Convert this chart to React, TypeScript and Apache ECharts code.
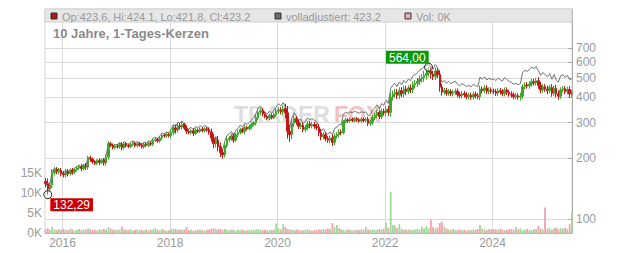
import React, { useEffect, useRef } from 'react';
import * as echarts from 'echarts';

// Semi-monthly periods (8th and 23rd of each month), Sep 2015 – Jun 2025
const FIRST_YEAR = 2015;
const FIRST_MONTH = 8; // September (0-based)
const PERIOD_DAYS = [8, 23];

// Closing prices per half-month
const close2015 = [150, 141, 148, 170, 176, 172, 174, 168];
const close2016 = [166, 172, 168, 174, 171, 176, 179, 182, 178, 184, 181, 200, 198, 192, 189, 194, 191, 195, 190, 203, 236, 232, 226, 230];
const close2017 = [228, 234, 226, 236, 231, 229, 234, 238, 231, 236, 233, 228, 235, 232, 238, 235, 246, 248, 244, 252, 260, 258, 263, 259];
const close2018 = [268, 283, 276, 290, 286, 294, 282, 272, 268, 274, 266, 276, 272, 279, 274, 280, 276, 270, 252, 236, 246, 228, 214, 208];
const close2019 = [232, 248, 252, 258, 246, 262, 268, 278, 272, 284, 280, 288, 294, 300, 318, 338, 344, 332, 322, 316, 326, 318, 330, 342];
const close2020 = [348, 340, 352, 336, 272, 262, 298, 314, 302, 288, 292, 278, 284, 296, 290, 294, 288, 284, 268, 256, 262, 250, 246, 252];
const close2021 = [240, 258, 262, 270, 268, 304, 310, 306, 312, 308, 314, 310, 306, 312, 308, 312, 298, 302, 318, 326, 338, 322, 342, 336];
const close2022 = [350, 338, 402, 416, 424, 410, 432, 418, 440, 428, 446, 438, 462, 470, 480, 494, 502, 516, 528, 540, 522, 508, 540, 520];
const close2023 = [450, 425, 432, 420, 428, 418, 424, 430, 414, 408, 418, 412, 404, 410, 402, 415, 408, 404, 440, 432, 446, 428, 436, 430];
const close2024 = [428, 420, 432, 426, 418, 436, 424, 416, 412, 404, 408, 402, 406, 452, 462, 456, 466, 480, 472, 484, 460, 436, 452, 440];
const close2025 = [432, 448, 420, 444, 416, 406, 436, 442, 428, 438, 416, 423];
const FIRST_OPEN = 154;

// Intra-period range beyond the body, in percent (wick length)
const wick2015 = [4, 6, 3, 4, 3, 3, 3, 3];
const wick2016 = [3, 3, 3, 2, 3, 2, 2, 2, 3, 2, 3, 3, 3, 2, 2, 2, 3, 2, 3, 3, 3, 2, 2, 2];
const wick2017 = [2, 2, 3, 2, 2, 2, 2, 2, 2, 2, 2, 2, 2, 2, 2, 2, 2, 2, 2, 2, 2, 2, 2, 2];
const wick2018 = [3, 3, 4, 3, 3, 3, 2, 3, 2, 2, 3, 2, 2, 2, 2, 2, 2, 3, 4, 5, 4, 5, 5, 4];
const wick2019 = [3, 3, 3, 3, 3, 2, 3, 2, 2, 3, 2, 2, 3, 2, 3, 3, 3, 3, 2, 2, 2, 2, 2, 3];
const wick2020 = [3, 3, 4, 6, 8, 8, 5, 4, 3, 3, 3, 3, 3, 3, 3, 3, 3, 3, 4, 4, 3, 3, 3, 3];
const wick2021 = [4, 3, 3, 3, 3, 2, 2, 2, 2, 2, 2, 2, 2, 2, 2, 2, 3, 3, 3, 3, 3, 3, 3, 3];
const wick2022 = [4, 4, 5, 4, 4, 4, 4, 4, 4, 4, 3, 4, 4, 4, 4, 4, 4, 5, 5, 4, 5, 4, 4, 4];
const wick2023 = [5, 4, 3, 3, 3, 3, 3, 3, 3, 3, 3, 3, 3, 3, 3, 3, 3, 3, 4, 3, 3, 3, 3, 3];
const wick2024 = [3, 3, 3, 3, 3, 3, 3, 3, 3, 3, 3, 3, 4, 3, 3, 3, 3, 3, 3, 3, 4, 4, 3, 3];
const wick2025 = [4, 3, 4, 3, 4, 4, 3, 3, 3, 3, 4, 3];

// "volladjustiert" line per half-month
const adj2015 = [152, 144, 150, 173, 179, 175, 177, 171];
const adj2016 = [169, 175, 171, 177, 174, 179, 182, 185, 181, 187, 184, 203, 201, 195, 192, 197, 194, 198, 193, 206, 240, 236, 230, 234];
const adj2017 = [234, 240, 232, 242, 237, 235, 240, 244, 237, 242, 239, 234, 241, 238, 244, 241, 252, 254, 250, 258, 267, 265, 270, 266];
const adj2018 = [279, 294, 287, 302, 298, 306, 293, 283, 279, 285, 277, 287, 283, 290, 285, 291, 287, 281, 262, 246, 256, 237, 223, 217];
const adj2019 = [244, 260, 265, 271, 258, 275, 281, 292, 286, 298, 294, 302, 309, 315, 334, 355, 361, 349, 338, 332, 342, 334, 347, 359];
const adj2020 = [372, 364, 377, 360, 291, 280, 319, 336, 323, 308, 312, 297, 304, 317, 310, 315, 308, 304, 287, 274, 280, 268, 263, 270];
const adj2021 = [262, 281, 286, 294, 292, 331, 338, 334, 340, 336, 342, 338, 334, 340, 336, 340, 325, 329, 347, 355, 368, 351, 373, 366];
const adj2022 = [388, 374, 444, 460, 470, 453, 477, 462, 486, 473, 493, 484, 511, 519, 530, 546, 555, 568, 575, 584, 566, 552, 582, 562];
const adj2023 = [500, 478, 484, 470, 480, 468, 475, 482, 464, 457, 468, 462, 453, 460, 451, 465, 457, 453, 505, 492, 506, 488, 498, 490];
const adj2024 = [494, 485, 498, 490, 482, 502, 490, 480, 474, 466, 470, 462, 468, 532, 545, 538, 550, 565, 556, 568, 542, 514, 532, 518];
const adj2025 = [506, 525, 492, 520, 488, 476, 512, 518, 502, 514, 490, 496];

// Volume (thousands) per half-month
const vol2015 = [0.9, 1.2, 0.8, 1.5, 0.9, 0.7, 1.0, 0.8];
const vol2016 = [1.0, 0.8, 0.7, 1.1, 0.9, 0.6, 0.8, 1.0, 0.7, 0.9, 0.8, 1.2, 0.9, 0.7, 0.8, 0.6, 0.9, 0.8, 1.0, 0.9, 1.5, 1.1, 0.8, 0.9];
const vol2017 = [0.8, 0.9, 1.6, 0.9, 0.7, 0.8, 1.0, 0.6, 0.8, 0.9, 0.7, 0.8, 0.6, 0.9, 0.7, 0.8, 0.9, 1.2, 0.8, 0.7, 1.0, 0.8, 0.6, 0.7];
const vol2018 = [0.9, 1.1, 1.0, 0.8, 0.9, 0.8, 0.9, 1.5, 0.7, 0.8, 0.6, 0.7, 0.8, 0.9, 0.7, 0.6, 0.8, 0.9, 1.1, 1.2, 1.0, 0.9, 1.1, 0.8];
const vol2019 = [1.0, 0.8, 0.7, 0.9, 0.8, 0.6, 0.8, 0.7, 0.9, 0.7, 0.6, 0.8, 0.7, 0.9, 0.8, 1.0, 0.8, 0.7, 0.9, 0.6, 0.8, 0.7, 0.9, 2.4];
const vol2020 = [1.2, 0.9, 2.2, 1.5, 1.0, 0.9, 0.8, 0.7, 0.9, 0.8, 0.6, 0.7, 0.8, 0.9, 0.7, 0.6, 0.8, 0.7, 0.9, 0.8, 1.0, 0.9, 1.1, 1.0];
const vol2021 = [2.5, 1.4, 2.0, 1.2, 0.9, 0.8, 0.7, 0.9, 0.8, 0.6, 0.7, 0.8, 0.7, 0.9, 0.8, 1.5, 0.9, 0.8, 0.9, 0.7, 0.8, 1.0, 0.9, 1.1];
const vol2022 = [2.6, 1.3, 10.3, 2.0, 1.8, 1.2, 2.2, 1.0, 0.9, 0.8, 0.9, 0.7, 0.8, 0.9, 1.0, 0.8, 1.6, 1.1, 1.8, 1.2, 3.3, 1.5, 1.1, 1.4];
const vol2023 = [2.5, 2.8, 1.6, 1.1, 0.9, 0.8, 1.0, 0.7, 0.8, 0.9, 0.7, 0.8, 0.6, 0.8, 0.7, 0.9, 0.8, 1.0, 2.0, 1.1, 0.9, 0.8, 1.0, 0.9];
const vol2024 = [1.0, 0.9, 0.8, 1.1, 0.9, 0.7, 0.8, 0.9, 1.0, 0.8, 1.5, 0.9, 1.2, 0.8, 0.9, 1.0, 0.8, 0.7, 0.9, 1.0, 1.8, 1.1, 0.9, 6.4];
const vol2025 = [1.1, 1.3, 0.9, 1.2, 1.4, 1.0, 1.2, 1.1, 1.3, 1.0, 2.2, 5.2];

// Extremes marked on the chart
const LOW_POINT = { year: 2015, month: 8, day: 23, value: 132.29 };
const HIGH_POINT = { year: 2022, month: 9, day: 23, value: 564.0 };

// Axis ticks
const PRICE_TICKS = [100, 200, 300, 400, 500, 600, 700];
const VOLUME_TICKS = [0, 5, 10, 15];
const YEAR_TICKS = [2016, 2018, 2020, 2022, 2024];
const X_MIN = Date.UTC(2015, 8, 4);
const X_MAX = Date.UTC(2025, 5, 24);

const LEGEND_OHLC = 'Op:423.6, Hi:424.1, Lo:421.8, Cl:423.2';
const LEGEND_ADJ = 'volladjustiert: 423.2';
const LEGEND_VOL = 'Vol: 0K';
const TITLE = '10 Jahre, 1-Tages-Kerzen';

const closes = [...close2015, ...close2016, ...close2017, ...close2018, ...close2019, ...close2020, ...close2021, ...close2022, ...close2023, ...close2024, ...close2025];
const wicks = [...wick2015, ...wick2016, ...wick2017, ...wick2018, ...wick2019, ...wick2020, ...wick2021, ...wick2022, ...wick2023, ...wick2024, ...wick2025];
const adjusted = [...adj2015, ...adj2016, ...adj2017, ...adj2018, ...adj2019, ...adj2020, ...adj2021, ...adj2022, ...adj2023, ...adj2024, ...adj2025];
const volumes = [...vol2015, ...vol2016, ...vol2017, ...vol2018, ...vol2019, ...vol2020, ...vol2021, ...vol2022, ...vol2023, ...vol2024, ...vol2025];

const FONT = '"Liberation Sans", Arial, Helvetica, sans-serif';
const UP = '#3aa82a';
const DOWN = '#c81414';

function periodDate(i: number): number {
  const m = FIRST_MONTH + Math.floor(i / 2);
  const y = FIRST_YEAR + Math.floor(m / 12);
  return Date.UTC(y, m % 12, PERIOD_DAYS[i % 2]);
}

function buildOption() {
  const lowTs = Date.UTC(LOW_POINT.year, LOW_POINT.month, LOW_POINT.day);
  const highTs = Date.UTC(HIGH_POINT.year, HIGH_POINT.month, HIGH_POINT.day);
  const candles: any[] = [];
  const adjLine: any[] = [];
  const vols: any[] = [];
  closes.forEach((c, i) => {
    const t = periodDate(i);
    const o = i === 0 ? FIRST_OPEN : closes[i - 1];
    const w = (wicks[i] ?? 3) / 100;
    let lo = Math.min(o, c) * (1 - w);
    let hi = Math.max(o, c) * (1 + w);
    if (t === lowTs) lo = LOW_POINT.value;
    if (t === highTs) hi = HIGH_POINT.value;
    candles.push([t, o, c, lo, hi]);
    adjLine.push([t, adjusted[i]]);
    vols.push({ value: [t, volumes[i]], itemStyle: { color: c >= o ? '#9fd89a' : '#f0a2aa' } });
  });
  const fmt = (v: number) => v.toFixed(2).replace('.', ',');
  const yearTs = YEAR_TICKS.map((y) => Date.UTC(y, 0, 1));

  return {
    animation: false,
    backgroundColor: '#ffffff',
    textStyle: { fontFamily: FONT },
    grid: { left: 45, right: 60, top: 9, bottom: 20, show: true, borderColor: '#d4d4d4', borderWidth: 1 },
    xAxis: {
      type: 'value',
      min: X_MIN,
      max: X_MAX,
      axisLine: { show: true, lineStyle: { color: '#b8b8b8' } },
      axisTick: { show: false, customValues: yearTs },
      axisLabel: {
        customValues: yearTs,
        formatter: (v: number) => String(new Date(v).getUTCFullYear()),
        color: '#9a9a9a',
        fontSize: 12,
        margin: 4,
        fontFamily: FONT,
      },
      splitLine: { show: true, lineStyle: { color: '#dadada', width: 1 } },
    },
    yAxis: [
      {
        type: 'log',
        logBase: 10,
        position: 'right',
        min: 85.5,
        max: 1095,
        axisLine: { show: true, lineStyle: { color: '#aaaaaa' } },
        axisTick: { show: true, inside: true, length: 4, customValues: PRICE_TICKS, lineStyle: { color: '#aaaaaa' } },
        axisLabel: {
          customValues: PRICE_TICKS,
          formatter: (v: number) => String(Math.round(v)),
          color: '#9a9a9a',
          fontSize: 12,
          margin: 4,
          fontFamily: FONT,
        },
        splitLine: { show: true, lineStyle: { color: '#dadada', width: 1 } },
      },
      {
        type: 'value',
        position: 'left',
        min: 0,
        max: 56,
        axisLine: { show: false },
        axisTick: { show: false },
        splitLine: { show: false },
        axisLabel: {
          customValues: VOLUME_TICKS,
          formatter: (v: number) => `${v}K`,
          color: '#9a9a9a',
          fontSize: 12,
          margin: 3,
          fontFamily: FONT,
        },
      },
    ],
    series: [
      {
        type: 'bar',
        yAxisIndex: 1,
        data: vols,
        barWidth: 1.8,
        z: 1,
      },
      {
        type: 'line',
        yAxisIndex: 0,
        data: adjLine,
        showSymbol: false,
        lineStyle: { color: '#727272', width: 1 },
        z: 2,
      },
      {
        type: 'candlestick',
        yAxisIndex: 0,
        data: candles,
        barWidth: 2,
        itemStyle: { color: UP, color0: DOWN, borderColor: UP, borderColor0: DOWN, borderWidth: 1 },
        z: 3,
        markPoint: {
          symbol: 'circle',
          symbolSize: 8,
          itemStyle: { color: 'rgba(255,255,255,0.3)', borderColor: '#222', borderWidth: 1 },
          data: [
            {
              coord: [lowTs, LOW_POINT.value],
              value: LOW_POINT.value,
              label: {
                show: true,
                formatter: () => fmt(LOW_POINT.value),
                position: [7, 8],
                backgroundColor: '#cc0000',
                color: '#ffffff',
                fontSize: 12,
                padding: [1, 3, 0, 3],
                fontFamily: FONT,
              },
            },
            {
              coord: [highTs, HIGH_POINT.value],
              value: HIGH_POINT.value,
              label: {
                show: true,
                formatter: () => fmt(HIGH_POINT.value),
                position: [-38, -12],
                backgroundColor: '#0a990a',
                color: '#ffffff',
                fontSize: 12,
                padding: [1, 3, 0, 3],
                fontFamily: FONT,
              },
            },
          ],
        },
      },
    ],
    graphic: [
      { type: 'text', z: -10, style: { x: 234, y: 115, text: 'TRADER', fill: '#dedede', font: `bold 23px ${FONT}`, verticalAlign: 'middle' } },
      { type: 'text', z: -10, style: { x: 334, y: 115, text: 'FOX', fill: '#f3c2c2', font: `bold 23px ${FONT}`, verticalAlign: 'middle' } },
      { type: 'rect', z: 50, shape: { x: 45, y: 9, width: 527, height: 13 }, style: { fill: '#e6e6e6', stroke: '#d0d0d0', lineWidth: 1 } },
      { type: 'rect', z: 51, shape: { x: 51, y: 13, width: 6, height: 6 }, style: { fill: '#b81313', stroke: '#333', lineWidth: 1 } },
      { type: 'text', z: 51, style: { x: 62, y: 16.5, text: LEGEND_OHLC, fill: '#9a9a9a', font: `11px ${FONT}`, verticalAlign: 'middle' } },
      { type: 'rect', z: 51, shape: { x: 275, y: 13, width: 6, height: 6 }, style: { fill: '#6a6a6a', stroke: '#333', lineWidth: 1 } },
      { type: 'text', z: 51, style: { x: 286, y: 16.5, text: LEGEND_ADJ, fill: '#9a9a9a', font: `11px ${FONT}`, verticalAlign: 'middle' } },
      { type: 'rect', z: 51, shape: { x: 405, y: 13, width: 6, height: 6 }, style: { fill: '#f2a8b0', stroke: '#333', lineWidth: 1 } },
      { type: 'text', z: 51, style: { x: 416, y: 16.5, text: LEGEND_VOL, fill: '#9a9a9a', font: `11px ${FONT}`, verticalAlign: 'middle' } },
      { type: 'text', z: 51, style: { x: 53, y: 33, text: TITLE, fill: '#8a8a8a', font: `bold 13px ${FONT}`, verticalAlign: 'middle' } },
    ],
  };
}

export default function App() {
  const ref = useRef<HTMLDivElement>(null);
  useEffect(() => {
    if (!ref.current) return;
    const chart = echarts.init(ref.current, null, { renderer: 'svg' });
    chart.setOption(buildOption() as any);
    return () => chart.dispose();
  }, []);
  return <div ref={ref} style={{ position: 'fixed', left: 0, top: 0, width: 632, height: 253, background: '#fff' }} />;
}
